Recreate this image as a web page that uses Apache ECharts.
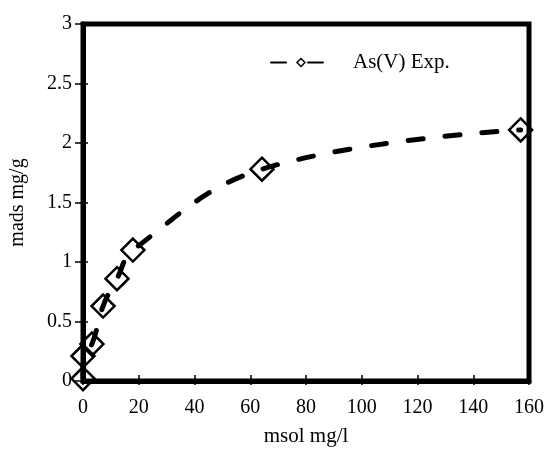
<!DOCTYPE html>
<html><head><meta charset="utf-8">
<script src="https://cdn.jsdelivr.net/npm/echarts@6/dist/echarts.min.js"></script>
<style>html,body{margin:0;padding:0;background:#fff}#c{width:549px;height:452px}</style>
</head><body><div id="c"></div>
<script>
const seriesName = 'As(V) Exp.';
const xName = 'msol mg/l';
const yName = 'mads mg/g';
const msol = [0, 0, 3.2, 7.2, 12.2, 17.9, 64.2, 157];
const mads = [0.02, 0.21, 0.31, 0.63, 0.86, 1.10, 1.78, 2.11];
const xMin = 0, xMax = 160, xStep = 20;
const yMin = 0, yMax = 3, yStep = 0.5;

const pts = msol.map((x, i) => [x, mads[i]]);
const font = 'Liberation Serif';
const chart = echarts.init(document.getElementById('c'), null, {renderer: 'canvas'});
const baseX = {
  type: 'value', min: xMin, max: xMax, interval: xStep, position: 'bottom',
  splitLine: {show: false}
};
const baseY = {
  type: 'value', min: yMin, max: yMax, interval: yStep, position: 'left',
  splitLine: {show: false}
};
chart.setOption({
  animation: false,
  backgroundColor: '#fff',
  grid: {left: 83, right: 20, top: 24, bottom: 66.5, show: true, borderColor: '#000', borderWidth: 5, backgroundColor: 'transparent'},
  legend: {
    data: [seriesName], left: 270, top: 52, padding: 0,
    itemWidth: 60, itemHeight: 10,
    itemStyle: {borderWidth: 1.5, borderColor: '#000', color: '#fff'},
    textStyle: {fontFamily: font, fontSize: 21, color: '#000', padding: [0, 0, 0, 17]}
  },
  xAxis: [
    Object.assign({}, baseX, {
      name: xName, nameLocation: 'middle', nameGap: 45,
      nameTextStyle: {fontFamily: font, fontSize: 21, color: '#000'},
      axisLine: {show: true, onZero: false, lineStyle: {color: '#000', width: 5}},
      axisTick: {show: true, inside: false, length: 4, lineStyle: {color: '#000', width: 1.5}},
      axisLabel: {fontFamily: font, fontSize: 20, color: '#000', margin: 17}
    }),
    Object.assign({}, baseX, {
      axisLine: {show: false},
      axisTick: {show: true, inside: true, length: 6, lineStyle: {color: '#000', width: 1.5}},
      axisLabel: {show: false}
    })
  ],
  yAxis: [
    Object.assign({}, baseY, {
      name: yName, nameLocation: 'middle', nameGap: 55,
      nameTextStyle: {fontFamily: font, fontSize: 20, color: '#000'},
      axisLine: {show: true, onZero: false, lineStyle: {color: '#000', width: 5}},
      axisTick: {show: true, inside: false, length: 8, lineStyle: {color: '#000', width: 1.5}},
      axisLabel: {fontFamily: font, fontSize: 20, color: '#000', margin: 11}
    }),
    Object.assign({}, baseY, {
      axisLine: {show: false},
      axisTick: {show: true, inside: true, length: 5, lineStyle: {color: '#000', width: 1.5}},
      axisLabel: {show: false}
    })
  ],
  series: [{
    name: seriesName, type: 'line', xAxisIndex: 0, yAxisIndex: 0,
    data: pts, smooth: 0.4, clip: false,
    symbol: 'diamond', symbolSize: 23, showSymbol: true,
    lineStyle: {color: '#000', width: 5, type: [15, 22], cap: 'round'},
    itemStyle: {color: 'rgba(255,255,255,0)', borderColor: '#000', borderWidth: 2.5},
    z: 3
  }]
});
</script></body></html>
